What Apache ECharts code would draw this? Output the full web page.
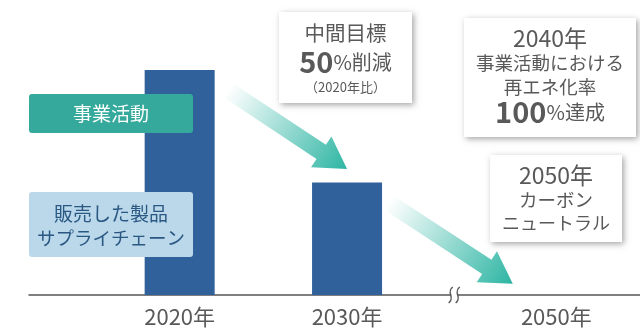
<!DOCTYPE html>
<html>
<head>
<meta charset="utf-8">
<script src="https://cdn.jsdelivr.net/npm/echarts@6/dist/echarts.min.js"></script>
<style>
  html, body { margin: 0; padding: 0; background: #fff; }
  #chart { width: 640px; height: 332px; }
</style>
</head>
<body>
<div id="chart"></div>
<script>
// カテゴリと値（2020年を100とした指数）
const categories = ["2020年", "2030年", "2050年"];
const slots = [0, 1, 2.25]; // 横軸上の位置（2030→2050は省略あり）
const emissions = [100, 50, 0];
// 矢印の始点・終点 [slot, 値]
const arrowFrom = [[0.29, 91], [1.25, 41]];
const arrowTo = [[1.0, 56], [1.99, 5]];
const axisBreakAt = 1.64;

const FONT = "Noto Sans CJK JP";
const GREY = "#595959";
const BAR = "#30619a";
const TEAL = "#2db5a3";

const chart = echarts.init(document.getElementById("chart"), null, { renderer: "canvas" });

function labelFor(v) {
  const i = slots.findIndex((s) => Math.abs(s - v) < 1e-6);
  return i >= 0 ? categories[i] : "";
}

// 矢印（グラデーション）描画
function renderArrow(params, api) {
  const p0 = api.coord([api.value(0), api.value(1)]);
  const p1 = api.coord([api.value(2), api.value(3)]);
  const dx = p1[0] - p0[0];
  const dy = p1[1] - p0[1];
  const len = Math.sqrt(dx * dx + dy * dy);
  const ux = dx / len, uy = dy / len;
  const nx = -uy, ny = ux;
  const headLen = 31, shaftW = 17, headW = 37;
  const bx = p1[0] - ux * headLen, by = p1[1] - uy * headLen;
  const pt = (x, y, w) => [x + nx * w / 2, y + ny * w / 2];
  const points = [
    pt(p0[0], p0[1], shaftW),
    pt(bx, by, shaftW),
    pt(bx, by, headW),
    p1,
    pt(bx, by, -headW),
    pt(bx, by, -shaftW),
    pt(p0[0], p0[1], -shaftW),
  ];
  return {
    type: "polygon",
    shape: { points },
    style: {
      fill: new echarts.graphic.LinearGradient(
        p0[0], p0[1], p1[0], p1[1],
        [
          { offset: 0, color: "rgba(45,181,163,0)" },
          { offset: 0.55, color: "rgba(45,181,163,0.55)" },
          { offset: 1, color: TEAL },
        ],
        true
      ),
    },
  };
}

// 軸の省略記号
function renderBreak(params, api) {
  const c = api.coord([api.value(0), 0]);
  const s = (ox) => ({
    type: "bezierCurve",
    shape: {
      x1: c[0] + ox + 2, y1: c[1] - 8,
      cpx1: c[0] + ox - 5, cpy1: c[1] - 2,
      cpx2: c[0] + ox + 5, cpy2: c[1] + 2,
      x2: c[0] + ox - 2, y2: c[1] + 8,
    },
    style: { stroke: "#5a5a5a", lineWidth: 1.5, fill: null },
  });
  return {
    type: "group",
    children: [
      { type: "rect", shape: { x: c[0] - 3, y: c[1] - 2, width: 6, height: 4 }, style: { fill: "#fff" } },
      s(-3.5),
      s(3.5),
    ],
  };
}

function box(x, y, w, h) {
  return {
    type: "rect",
    z: 100,
    shape: { x, y, width: w, height: h },
    style: { fill: "#fff", shadowBlur: 6, shadowOffsetX: 2, shadowOffsetY: 2, shadowColor: "rgba(0,0,0,0.35)" },
  };
}

function txt(x, y, text, style) {
  return {
    type: "text",
    z: 101,
    x, y,
    style: Object.assign(
      { text, fontFamily: FONT, fill: GREY, align: "center", verticalAlign: "middle" },
      style
    ),
  };
}

const bigNum = { fontSize: 29, fontWeight: "bold", fontFamily: FONT, fill: GREY };
const small = { fontSize: 20, fontFamily: FONT, fill: GREY };

const option = {
  animation: false,
  grid: { left: 29, right: 0, top: 70, bottom: 37 },
  xAxis: {
    type: "value",
    min: -0.9,
    max: 2.75,
    splitLine: { show: false },
    axisTick: { show: false },
    axisLine: { show: true, onZero: false, lineStyle: { color: "#555", width: 1.5 } },
    axisLabel: {
      customValues: slots,
      formatter: labelFor,
      color: GREY,
      fontSize: 22,
      fontFamily: FONT,
      margin: 11,
    },
  },
  yAxis: { type: "value", min: 0, max: 100, show: false },
  series: [
    {
      type: "bar",
      data: slots.map((s, i) => [s, emissions[i]]),
      barWidth: 70,
      itemStyle: { color: BAR },
      z: 2,
    },
    {
      type: "custom",
      renderItem: renderArrow,
      data: arrowFrom.map((f, i) => [f[0], f[1], arrowTo[i][0], arrowTo[i][1]]),
      z: 3,
    },
    {
      type: "custom",
      renderItem: renderBreak,
      data: [[axisBreakAt]],
      z: 4,
    },
  ],
  graphic: [
    // 左側のラベル
    { type: "rect", z: 100, shape: { x: 29, y: 94, width: 164, height: 39, r: 3 }, style: { fill: "#35a99b" } },
    txt(111, 113.5, "事業活動", { fill: "#fff", fontSize: 19 }),
    { type: "rect", z: 100, shape: { x: 29, y: 192, width: 164, height: 65, r: 3 }, style: { fill: "#bad8ea" } },
    txt(111, 214, "販売した製品", { fill: "#2a5883", fontSize: 19 }),
    txt(111, 238, "サプライチェーン", { fill: "#2a5883", fontSize: 18.5 }),

    // 中間目標
    box(279, 12, 133, 91),
    txt(345.5, 33, "中間目標", { fontSize: 20.5 }),
    txt(345.5, 62, "{b|50}{n|%削減}", { rich: { b: bigNum, n: small } }),
    txt(345.5, 87, "（2020年比）", { fontSize: 13 }),

    // 2040年
    box(464, 18, 172, 119),
    txt(550, 38, "2040年", { fontSize: 23 }),
    txt(550, 63, "事業活動における", { fontSize: 18.5 }),
    txt(550, 87, "再エネ化率", { fontSize: 18.5 }),
    txt(550, 112, "{b|100}{n|%達成}", { rich: { b: bigNum, n: small } }),

    // 2050年
    box(490, 155, 132, 87),
    txt(556, 175, "2050年", { fontSize: 23 }),
    txt(556, 200, "カーボン", { fontSize: 18.5 }),
    txt(556, 223, "ニュートラル", { fontSize: 18 }),
  ],
};

chart.setOption(option);
</script>
</body>
</html>
